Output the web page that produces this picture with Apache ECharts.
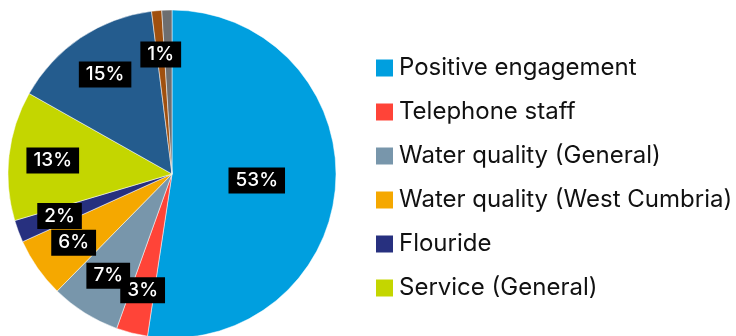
<!DOCTYPE html>
<html>
<head>
<meta charset="UTF-8">
<title>Feedback by topic</title>
<script src="https://cdn.jsdelivr.net/npm/echarts@6/dist/echarts.min.js"></script>
<style>
  html, body { margin: 0; padding: 0; background: #fff; }
  #main { width: 736px; height: 336px; }
</style>
</head>
<body>
<div id="main"></div>
<script>
// slice names, values (percent) and colours, clockwise from the top
var names = ['Positive engagement', 'Telephone staff', 'Water quality (General)',
             'Water quality (West Cumbria)', 'Flouride', 'Service (General)',
             'Other', 'Other (2)', 'Other (3)'];
var values = [52.6, 3.1, 6.9, 5.9, 2.2, 12.8, 14.9, 1.0, 1.0];
var colors = ['#009FDF', '#FF4438', '#7896AB', '#F5A800', '#27307F', '#C4D600',
              '#245C8E', '#A0500F', '#6D6E70'];
var legendNames = names.slice(0, 6);

var labelBox = {
    color: '#fff',
    backgroundColor: '#000',
    fontFamily: 'Inter',
    fontSize: 19,
    fontWeight: 500,
    padding: [4, 7, 3, 7],
    formatter: function (p) { return Math.round(p.value) + '%'; }
};

var mainData = [], labelData = [];
for (var i = 0; i < names.length; i++) {
    mainData.push({
        name: names[i], value: values[i],
        itemStyle: { color: colors[i] },
        label: { show: i === 0 }
    });
    labelData.push({
        name: names[i], value: values[i],
        label: { show: i !== 0 && i !== names.length - 1 }
    });
}

var myChart = echarts.init(document.getElementById('main'));
myChart.setOption({
    animation: false,
    legend: {
        orient: 'vertical',
        left: 369,
        top: 51,
        data: legendNames,
        icon: 'rect',
        itemWidth: 19,
        itemHeight: 19,
        itemGap: 20,
        selectedMode: false,
        textStyle: { fontFamily: 'Inter', fontSize: 24, lineHeight: 24, color: '#111' }
    },
    series: [
        {
            type: 'pie',
            center: [172, 174],
            radius: 164,
            startAngle: 90,
            silent: true,
            avoidLabelOverlap: false,
            itemStyle: { borderColor: '#fff', borderWidth: 0.5 },
            label: Object.assign({ position: 'inside' }, labelBox),
            labelLine: { show: false },
            data: mainData
        },
        {
            // transparent ring that only carries the smaller slices' labels
            type: 'pie',
            center: [172, 174],
            radius: [70, 164],
            startAngle: 90,
            silent: true,
            avoidLabelOverlap: false,
            itemStyle: { color: 'rgba(0,0,0,0)' },
            label: Object.assign({ position: 'inside' }, labelBox),
            labelLine: { show: false },
            labelLayout: { hideOverlap: false },
            data: labelData
        }
    ]
});
</script>
</body>
</html>
